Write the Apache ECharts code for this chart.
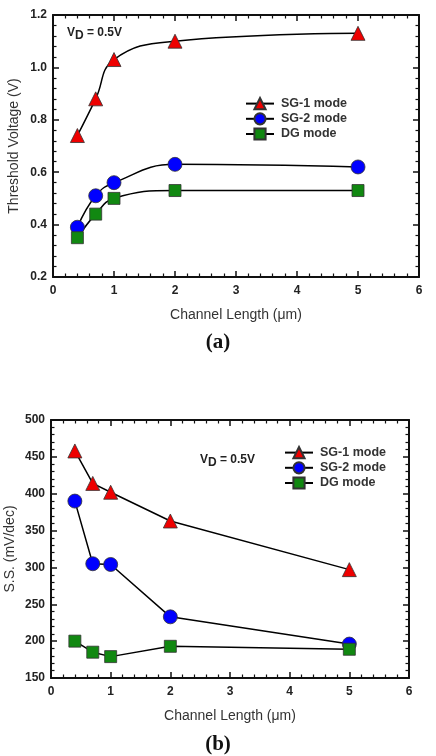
<!DOCTYPE html>
<html>
<head>
<meta charset="utf-8">
<script src="https://cdn.jsdelivr.net/npm/echarts@6/dist/echarts.min.js"></script>
<style>
  html, body { margin: 0; padding: 0; background: #fff; }
  #chart { width: 436px; height: 756px; }
</style>
</head>
<body>
<div id="chart"></div>
<script>
// channel lengths (um)
var lengths = [0.4, 0.7, 1, 2, 5];
var seriesNames = ['SG-1 mode', 'SG-2 mode', 'DG mode'];

// (a) threshold voltage (V)
var vthSG1 = [0.74, 0.88, 1.03, 1.10, 1.13];
var vthSG2 = [0.39, 0.51, 0.56, 0.63, 0.62];
var vthDG = [0.35, 0.44, 0.50, 0.53, 0.53];

// (b) subthreshold swing (mV/dec)
var ssSG1 = [458, 414, 402, 363, 297];
var ssSG2 = [390, 305, 304, 233, 196];
var ssDG = [200, 185, 179, 193, 189];

var font = 'Liberation Sans, Arial, sans-serif';

function pairs(ys) {
  return lengths.map(function (x, i) { return [x, ys[i]]; });
}

// marker look for each mode
var marks = {
  'SG-1 mode': { symbol: 'triangle', size: 14, color: '#ee0000' },
  'SG-2 mode': { symbol: 'circle', size: 14, color: '#0000ff' },
  'DG mode': { symbol: 'rect', size: 12, color: '#118811' }
};

function line(name, ys, gi, smooth) {
  var m = marks[name];
  return {
    name: name,
    type: 'line',
    xAxisIndex: gi * 2,
    yAxisIndex: gi * 2,
    data: pairs(ys),
    smooth: smooth,
    symbol: m.symbol,
    symbolSize: m.size,
    showAllSymbol: true,
    lineStyle: { color: '#000', width: 1.5 },
    itemStyle: { color: m.color, borderColor: '#333', borderWidth: 0.8 },
    z: 3
  };
}

function xAx(gi, pos, showLabel) {
  return {
    type: 'value', gridIndex: gi, position: pos,
    min: 0, max: 6, interval: 1,
    axisLine: { show: true, onZero: false, lineStyle: { color: '#111', width: 2 } },
    axisTick: { show: true, inside: true, length: 6, lineStyle: { color: '#111', width: 1.5 } },
    minorTick: { show: true, splitNumber: 5, length: 3.5, lineStyle: { color: '#111', width: 1.2 } },
    axisLabel: { show: showLabel, color: '#222', fontWeight: 'bold', fontSize: 12, fontFamily: font, margin: 8 },
    splitLine: { show: false },
    name: showLabel ? 'Channel Length (\u03bcm)' : '',
    nameLocation: 'middle',
    nameGap: 31,
    nameMoveOverlap: false,
    nameTextStyle: { color: '#333', fontSize: 14, fontFamily: font }
  };
}

function yAx(gi, pos, showLabel, min, max, interval, name, gap, fmt) {
  return {
    type: 'value', gridIndex: gi, position: pos,
    min: min, max: max, interval: interval,
    axisLine: { show: true, onZero: false, lineStyle: { color: '#111', width: 2 } },
    axisTick: { show: true, inside: true, length: 6, lineStyle: { color: '#111', width: 1.5 } },
    minorTick: { show: true, splitNumber: 5, length: 3.5, lineStyle: { color: '#111', width: 1.2 } },
    axisLabel: { show: showLabel, color: '#222', fontWeight: 'bold', fontSize: 12, fontFamily: font, margin: 6, formatter: fmt },
    splitLine: { show: false },
    name: showLabel ? name : '',
    nameLocation: 'middle',
    nameGap: gap,
    nameMoveOverlap: false,
    nameTextStyle: { color: '#333', fontSize: 14, fontFamily: font }
  };
}

function legend(left, top) {
  return {
    orient: 'vertical', left: left, top: top,
    itemWidth: 28, itemHeight: 14, itemGap: 2,
    data: seriesNames,
    selectedMode: false,
    textStyle: { color: '#333', fontWeight: 'bold', fontSize: 12.5, fontFamily: font, padding: [0, 0, 0, 2] }
  };
}

function vdText(left, top) {
  return {
    type: 'text', left: left, top: top,
    style: {
      text: '{v|V}{d|D}{v| = 0.5V}',
      rich: {
        v: { fontSize: 12, fontWeight: 'bold', fontFamily: font, fill: '#222' },
        d: { fontSize: 12, fontWeight: 'bold', fontFamily: font, fill: '#222', padding: [6, 0, 0, 0] }
      }
    }
  };
}

var chart = echarts.init(document.getElementById('chart'));
chart.setOption({
  backgroundColor: '#fff',
  animation: false,
  grid: [
    { left: 53, right: 17, top: 15, height: 262, outerBoundsMode: 'none' },
    { left: 51, right: 27, top: 420, height: 258, outerBoundsMode: 'none' }
  ],
  xAxis: [xAx(0, 'bottom', true), xAx(0, 'top', false), xAx(1, 'bottom', true), xAx(1, 'top', false)],
  yAxis: [
    yAx(0, 'left', true, 0.2, 1.2, 0.2, 'Threshold Voltage (V)', 32, function (v) { return v.toFixed(1); }),
    yAx(0, 'right', false, 0.2, 1.2, 0.2),
    yAx(1, 'left', true, 150, 500, 50, 'S.S. (mV/dec)', 34),
    yAx(1, 'right', false, 150, 500, 50)
  ],
  legend: [legend(240, 92), legend(279, 441)],
  graphic: [
    vdText(67, 27),
    vdText(200, 454),
    { type: 'text', left: 'center', top: 332, style: { text: '(a)', font: 'bold 21px "Liberation Serif", "Times New Roman", serif', fill: '#111' } },
    { type: 'text', left: 'center', top: 734, style: { text: '(b)', font: 'bold 21px "Liberation Serif", "Times New Roman", serif', fill: '#111' } }
  ],
  series: [
    line('SG-1 mode', vthSG1, 0, 0.45),
    line('SG-2 mode', vthSG2, 0, 0.45),
    line('DG mode', vthDG, 0, 0.45),
    line('SG-1 mode', ssSG1, 1, false),
    line('SG-2 mode', ssSG2, 1, false),
    line('DG mode', ssDG, 1, false)
  ]
});
</script>
</body>
</html>
